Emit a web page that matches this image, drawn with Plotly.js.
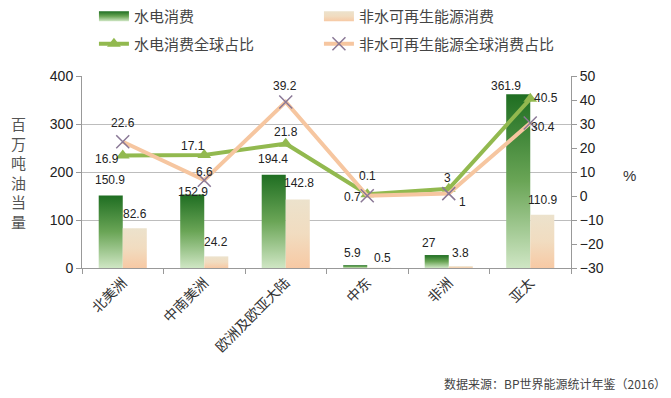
<!DOCTYPE html>
<html>
<head>
<meta charset="utf-8">
<script src="https://cdn.plot.ly/plotly-3.0.1.min.js"></script>
<style>html,body{margin:0;padding:0;background:#fff;}#chart{width:671px;height:398px;}</style>
</head>
<body>
<div id="chart"></div>
<script>
// ---- data ----
var regions = ["北美洲", "中南美洲", "欧洲及欧亚大陆", "中东", "非洲", "亚太"];
var hydroConsumption = [150.9, 152.9, 194.4, 5.9, 27, 361.9];
var renewConsumption = [82.6, 24.2, 142.8, 0.5, 3.8, 110.9];
var hydroShare = [16.9, 17.1, 21.8, 0.7, 3, 40.5];
var renewShare = [22.6, 6.6, 39.2, 0.1, 1, 30.4];
var seriesNames = ["水电消费", "非水可再生能源消费", "水电消费全球占比", "非水可再生能源全球消费占比"];
var leftTicks = [0, 100, 200, 300, 400];
var rightTicks = [-30, -20, -10, 0, 10, 20, 30, 40, 50];

// label offsets (px) for data labels: [xshift, yshift]
var hydroBarOff = [[-13,16],[-11,3],[-13,16],[-15,12],[-20,12],[-24,8]];
var renewBarOff = [[12,14],[12,14],[13,16],[15,10],[12,13],[12,15]];
var hydroShareOff = [[-16,-4],[-11,9],[0,12],[-15,-3],[-1,11],[16,1]];
var renewShareOff = [[0,19],[0,8],[-1,16],[0,20],[14,-8],[13,-4]];

var numFont = "Liberation Sans, Arial, sans-serif";
var cjkFont = "Noto Sans CJK SC, sans-serif";

var traces = [
  {type: "bar", name: seriesNames[0], x: regions, y: hydroConsumption,
   marker: {color: "#4f9a3f"}, yaxis: "y", hoverinfo: "skip"},
  {type: "bar", name: seriesNames[1], x: regions, y: renewConsumption,
   marker: {color: "#f0d6b8"}, yaxis: "y", hoverinfo: "skip"},
  {type: "scatter", mode: "lines+markers", name: seriesNames[2], x: regions, y: hydroShare,
   yaxis: "y2", line: {color: "#92b94f", width: 4},
   marker: {symbol: "triangle-up", size: 12, color: "#92b94f"}, hoverinfo: "skip"},
  {type: "scatter", mode: "lines+markers", name: seriesNames[3], x: regions, y: renewShare,
   yaxis: "y2", line: {color: "#f6c6a0", width: 4},
   marker: {symbol: "x-thin", size: 13, color: "#8a7896", line: {color: "#8a7896", width: 1.5}}, hoverinfo: "skip"}
];

var annotations = [];
function addLabels(vals, offs, yref) {
  for (var i = 0; i < vals.length; i++) {
    annotations.push({x: regions[i], y: vals[i], xref: "x", yref: yref,
      text: String(vals[i]), showarrow: false, xshift: offs[i][0], yshift: offs[i][1],
      font: {family: numFont, size: 12, color: "#222"}});
  }
}
addLabels(hydroConsumption, hydroBarOff, "y");
addLabels(renewConsumption, renewBarOff, "y");
addLabels(hydroShare, hydroShareOff, "y2");
addLabels(renewShare, renewShareOff, "y2");

annotations.push({xref: "paper", yref: "paper", x: -0.13, y: 0.5, xanchor: "center", yanchor: "middle",
  text: "百<br>万<br>吨<br>油<br>当<br>量", showarrow: false,
  font: {family: cjkFont, size: 15, color: "#555"}});
annotations.push({xref: "paper", yref: "paper", x: 1.12, y: 0.48, xanchor: "center", yanchor: "middle",
  text: "%", showarrow: false, font: {family: numFont, size: 15, color: "#333"}});
annotations.push({xref: "paper", yref: "paper", x: 1.198, y: -0.6, xanchor: "right", yanchor: "middle",
  text: "数据来源：BP世界能源统计年鉴（2016）", showarrow: false,
  font: {family: cjkFont, size: 12, color: "#444"}});

var layout = {
  width: 671, height: 398,
  margin: {l: 82, r: 100, t: 76, b: 130},
  paper_bgcolor: "#fff", plot_bgcolor: "#fff",
  barmode: "group", bargap: 0.41, bargroupgap: 0,
  showlegend: true,
  legend: {orientation: "h", xref: "container", yref: "container", x: 0.14, y: 1.0,
    xanchor: "left", yanchor: "top", entrywidth: 180, entrywidthmode: "pixels",
    font: {family: cjkFont, size: 15, color: "#444"}, itemwidth: 30, traceorder: "normal"},
  xaxis: {type: "category", tickson: "boundaries", ticks: "outside", ticklen: 5, tickcolor: "#999",
    showline: true, linecolor: "#999", linewidth: 1, tickangle: -45,
    tickfont: {family: cjkFont, size: 14, color: "#333"}, showgrid: false, zeroline: false},
  yaxis: {range: [0, 400], tickvals: leftTicks, ticks: "outside", ticklen: 5, tickcolor: "#999",
    showline: true, linecolor: "#999", gridcolor: "#bdbdbd", gridwidth: 1, zeroline: false,
    tickfont: {family: numFont, size: 14, color: "#222"}},
  yaxis2: {range: [-30, 50], tickvals: rightTicks, overlaying: "y", side: "right", ticks: "outside",
    ticklen: 5, tickcolor: "#999", showline: true, linecolor: "#999", showgrid: false, zeroline: false,
    tickfont: {family: numFont, size: 14, color: "#222"}},
  annotations: annotations
};

function applyGradients() {
  var svg = document.querySelector("#chart .main-svg");
  var defs = svg.querySelector("defs");
  var ns = "http://www.w3.org/2000/svg";
  function grad(id, stops) {
    var g = document.createElementNS(ns, "linearGradient");
    g.setAttribute("id", id); g.setAttribute("x1", "0"); g.setAttribute("y1", "0");
    g.setAttribute("x2", "0"); g.setAttribute("y2", "1");
    stops.forEach(function (s) {
      var st = document.createElementNS(ns, "stop");
      st.setAttribute("offset", s[0]); st.setAttribute("stop-color", s[1]);
      g.appendChild(st);
    });
    defs.appendChild(g);
  }
  grad("gGreen", [["0", "#1f6e22"], ["0.5", "#6aa556"], ["1", "#cfe6c4"]]);
  grad("gBeige", [["0", "#ece2cc"], ["0.5", "#f1dcc0"], ["1", "#f7c9a4"]]);
  var traceGs = document.querySelectorAll("#chart .barlayer .trace");
  var ids = ["gGreen", "gBeige"];
  traceGs.forEach(function (tg, i) {
    tg.querySelectorAll("path").forEach(function (p) { p.style.fill = "url(#" + ids[i] + ")"; });
  });
  var legendItems = document.querySelectorAll("#chart .legend .traces");
  legendItems.forEach(function (lt, i) {
    if (i < 2) {
      lt.querySelectorAll(".legendpoints path").forEach(function (p) {
        p.setAttribute("d", "M-15,-5H15V5H-15Z");
        p.style.fill = "url(#" + ids[i] + ")";
        p.style.stroke = "none";
      });
    } else {
      var t = lt.getAttribute("transform") || "";
      var m = t.match(/translate\(([-\d.]+)[ ,]+([-\d.]+)\)/);
      if (m) lt.setAttribute("transform", "translate(" + m[1] + "," + (parseFloat(m[2]) + 5) + ")");
    }
  });
  var sb = document.querySelector("#chart .legend .scrollbox");
  if (sb) sb.removeAttribute("clip-path");
  var lg = document.querySelector("#chart .legend");
  if (lg) lg.removeAttribute("clip-path");
}

Plotly.newPlot("chart", traces, layout, {staticPlot: true}).then(applyGradients);
</script>
</body>
</html>
